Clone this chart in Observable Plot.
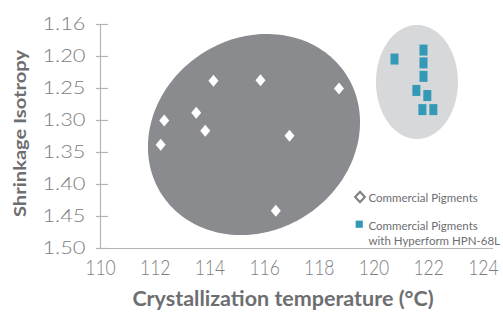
<!DOCTYPE html>
<html>
<head>
<meta charset="utf-8">
<script src="https://cdn.jsdelivr.net/npm/d3@7"></script>
<script src="https://cdn.jsdelivr.net/npm/@observablehq/plot@0.6"></script>
<style>
  html, body { margin: 0; padding: 0; background: #fff; }
  #chart { width: 503px; height: 312px; overflow: hidden; }
</style>
</head>
<body>
<div id="chart"></div>
<script>
// ---- data ----
const commercialX = [114.13, 115.85, 118.72, 112.33, 113.50, 113.83, 116.91, 112.20, 116.41];
const commercialY = [1.238, 1.237, 1.250, 1.300, 1.288, 1.316, 1.324, 1.338, 1.441];
const hyperformX = [120.75, 121.81, 121.81, 121.81, 121.55, 121.95, 121.77, 122.17];
const hyperformY = [1.204, 1.190, 1.210, 1.231, 1.253, 1.261, 1.283, 1.283];

const xTicks = [110, 112, 114, 116, 118, 120, 122, 124];
const yTicks = [1.15, 1.20, 1.25, 1.30, 1.35, 1.40, 1.45, 1.50];
const yTickLabels = ["1.16", "1.20", "1.25", "1.30", "1.35", "1.40", "1.45", "1.50"];

// cluster regions (centre in data units)
const clusterNames = ["Commercial Pigments", "Commercial Pigments with Hyperform HPN-68L"];
const clusterCX = [115.63, 121.59];
const clusterCY = [1.3227, 1.2406];

const xTitle = "Crystallization temperature (°C)";
const yTitle = "Shrinkage Isotropy";
const legendLabels = ["Commercial Pigments", "Commercial Pigments", "with Hyperform HPN-68L"];

const commercial = commercialX.map((x, i) => ({x, y: commercialY[i]}));
const hyperform = hyperformX.map((x, i) => ({x, y: hyperformY[i]}));

// ---- styles ----
const darkGray = "#8a8b8e";
const lightGray = "#d7d8da";
const teal = "#3399b6";
const axisColor = "#b4b4b4";
const tickText = "#7d7e81";
const titleText = "#6d6e71";

const diamond = {draw(ctx) { ctx.moveTo(0, -6); ctx.lineTo(5, 0); ctx.lineTo(0, 6); ctx.lineTo(-5, 0); ctx.closePath(); }};
const rectSym = {draw(ctx) { ctx.moveTo(-4, -5.5); ctx.lineTo(4, -5.5); ctx.lineTo(4, 5.5); ctx.lineTo(-4, 5.5); ctx.closePath(); }};
const legDiamond = {draw(ctx) { ctx.moveTo(0, -5.2); ctx.lineTo(4.8, 0); ctx.lineTo(0, 5.2); ctx.lineTo(-4.8, 0); ctx.closePath(); }};
const legSquare = {draw(ctx) { ctx.moveTo(-3.6, -3.6); ctx.lineTo(3.6, -3.6); ctx.lineTo(3.6, 3.6); ctx.lineTo(-3.6, 3.6); ctx.closePath(); }};

// ellipse shapes: semi-axes in px, rotation in degrees (screen)
const ellipseShapes = [
  {a: 110, b: 96.2, rot: -33.2, fill: darkGray},
  {a: 41, b: 57, rot: 0, fill: lightGray}
];

function ellipseMark(k) {
  return (index, scales) => {
    const cx = scales.x(clusterCX[k]);
    const cy = scales.y(clusterCY[k]);
    const {a, b, rot, fill} = ellipseShapes[k];
    const phi = rot * Math.PI / 180;
    const p = d3.path();
    const n = 180;
    for (let i = 0; i <= n; i++) {
      const t = 2 * Math.PI * i / n;
      const px = cx + a * Math.cos(t) * Math.cos(phi) - b * Math.sin(t) * Math.sin(phi);
      const py = cy + a * Math.cos(t) * Math.sin(phi) + b * Math.sin(t) * Math.cos(phi);
      if (i === 0) p.moveTo(px, py); else p.lineTo(px, py);
    }
    p.closePath();
    return d3.create("svg:path").attr("d", p.toString()).attr("fill", fill).node();
  };
}

const plot = Plot.plot({
  width: 503,
  height: 312,
  marginLeft: 100,
  marginRight: 10,
  marginTop: 24,
  marginBottom: 64,
  style: {fontFamily: "Lato, 'Open Sans', sans-serif", background: "#fff"},
  x: {domain: [110, 124.37], axis: null},
  y: {domain: [1.15, 1.5], reverse: true, axis: null},
  marks: [
    ellipseMark(0),
    ellipseMark(1),
    Plot.ruleX([110], {stroke: axisColor, strokeWidth: 1.2}),
    Plot.ruleY([1.5], {stroke: axisColor, strokeWidth: 1.2}),
    Plot.axisY({ticks: yTicks, label: null, tickSize: 12, dx: 8, tickFormat: () => "", stroke: axisColor, strokeWidth: 1.2}),
    Plot.axisY({ticks: yTicks, label: null, tickSize: 0, tickPadding: 15, tickFormat: (d, i) => yTickLabels[i],
      fill: tickText, fontSize: 18.5, fontWeight: 300}),
    Plot.axisX({ticks: xTicks, label: null, tickSize: 0, tickPadding: 12, fill: tickText, fontSize: 17.5, fontWeight: 300}),
    Plot.dot(commercial, {x: "x", y: "y", symbol: diamond, fill: "#fff", stroke: "none"}),
    Plot.dot(hyperform, {x: "x", y: "y", symbol: rectSym, fill: teal, stroke: "none"}),
    // axis titles
    Plot.text([xTitle], {text: d => d, frameAnchor: "bottom", textAnchor: "middle", lineAnchor: "bottom",
      dx: -14, dy: 57, fontSize: 21.5, fontWeight: "bold", fill: titleText}),
    Plot.text([yTitle], {text: d => d, frameAnchor: "left", textAnchor: "middle", rotate: -90,
      dx: -80, dy: -3, fontSize: 16.5, fontWeight: "bold", fill: titleText}),
    // legend
    Plot.dot([0], {frameAnchor: "top-left", dx: 259.5, dy: 172.5, symbol: legDiamond, fill: "#fff", stroke: "#808285", strokeWidth: 2.2}),
    Plot.dot([0], {frameAnchor: "top-left", dx: 258.7, dy: 199.7, symbol: legSquare, fill: teal, stroke: "none"}),
    Plot.text([legendLabels[0]], {text: d => d, frameAnchor: "top-left", textAnchor: "start", lineAnchor: "bottom",
      dx: 268, dy: 177, fontSize: 11.5, fill: titleText}),
    Plot.text([legendLabels[1]], {text: d => d, frameAnchor: "top-left", textAnchor: "start", lineAnchor: "bottom",
      dx: 268, dy: 205.3, fontSize: 11.5, fill: titleText}),
    Plot.text([legendLabels[2]], {text: d => d, frameAnchor: "top-left", textAnchor: "start", lineAnchor: "bottom",
      dx: 268, dy: 220.7, fontSize: 11.5, fill: titleText})
  ]
});

document.getElementById("chart").appendChild(plot);

// glyph stretching to match the reference's proportions
function stretch(sel, sx, sy) {
  sel.each(function () {
    const t = this.getAttribute("transform");
    if (t) {
      this.setAttribute("transform", t + ` scale(${sx},${sy})`);
    } else {
      const x = +this.getAttribute("x") || 0, y = +this.getAttribute("y") || 0;
      this.removeAttribute("x"); this.removeAttribute("y");
      this.setAttribute("transform", `translate(${x},${y}) scale(${sx},${sy})`);
    }
  });
}
const svg = d3.select(plot);
const byText = (list) => svg.selectAll("text").filter(function () { return list.includes(this.textContent); });
stretch(svg.selectAll('g[aria-label="x-axis tick label"] text'), 1, 1.2);
stretch(svg.selectAll('g[aria-label="y-axis tick label"] text'), 1.18, 1);
stretch(byText([yTitle]), 1.22, 1);
</script>
</body>
</html>
